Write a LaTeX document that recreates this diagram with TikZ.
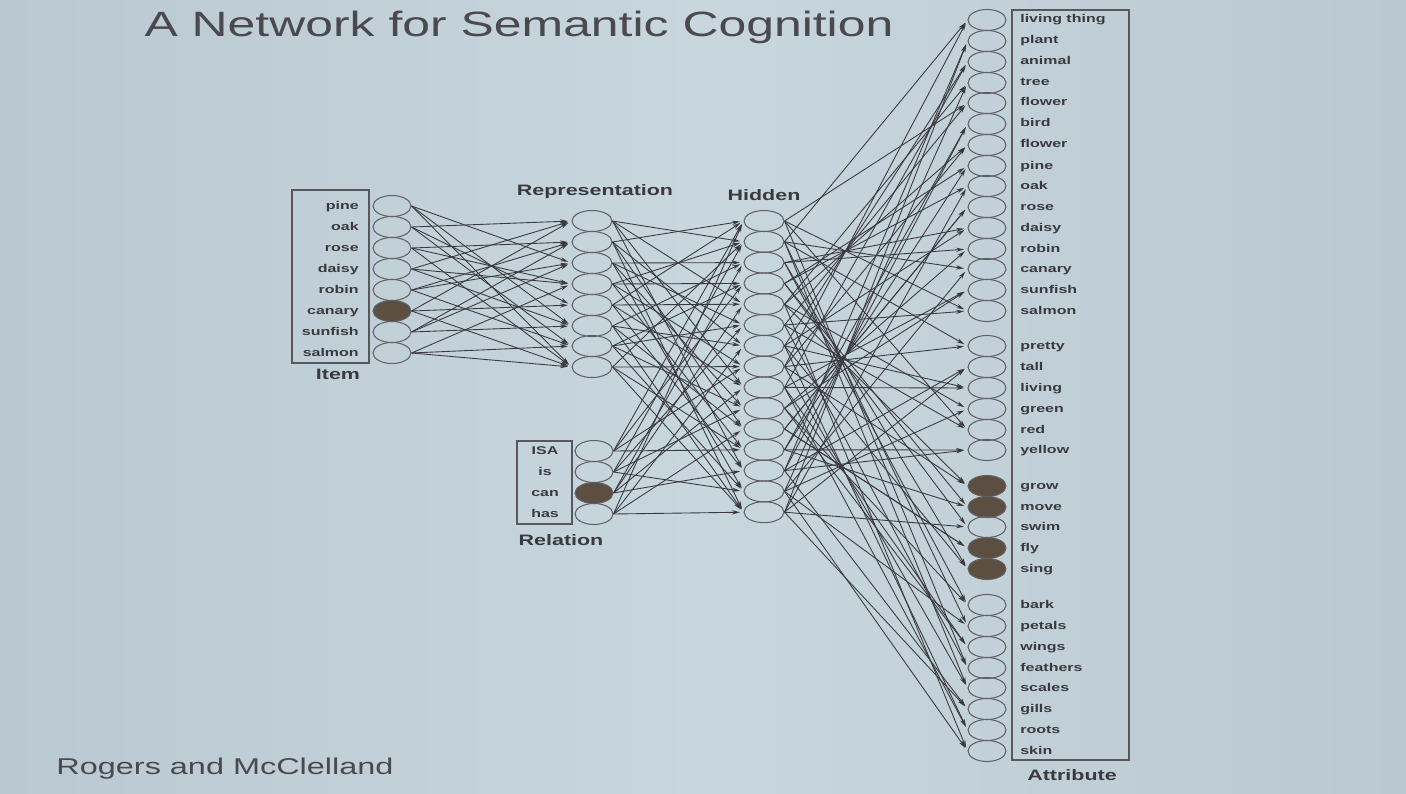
\documentclass[tikz,border=0pt]{standalone}
\usepackage{fontspec}
\usepackage{graphicx}
\setmainfont{Liberation Sans}
\usetikzlibrary{shapes.geometric,arrows.meta}
\definecolor{bg}{RGB}{200,214,222}
\definecolor{bgl}{RGB}{186,201,209}
\definecolor{ink}{RGB}{58,58,62}
\definecolor{dark}{RGB}{92,78,64}
\newcommand{\wide}[1]{\scalebox{1.42}[1]{#1}}
\begin{document}
\begin{tikzpicture}[x=0.02cm,y=-0.02cm,
  unit/.style={draw=ink!80,line width=0.6pt,ellipse,minimum width=0.76cm,minimum height=0.42cm,inner sep=0pt},
  hunit/.style={unit,minimum width=0.8cm},
  filled/.style={unit,fill=dark},
  lab/.style={font=\fontsize{6.4}{6.4}\selectfont\bfseries,text=ink,inner sep=0pt},
  head/.style={font=\fontsize{8.6}{8.6}\selectfont\bfseries,text=ink,inner sep=0pt,anchor=base},
  frame/.style={draw=ink!85,line width=0.8pt,rectangle,inner sep=0pt},
  conn/.style={draw=ink,line width=0.5pt,-{Stealth[length=4.5pt,width=2.4pt]},shorten >=2pt}]
\useasboundingbox (0,0) rectangle (1406,794);
\shade[left color=bgl,right color=bg] (0,0) rectangle (703,794);
\shade[left color=bg,right color=bgl] (703,0) rectangle (1406,794);

\node[font=\fontsize{20}{20}\selectfont,text=ink!92,inner sep=0pt,anchor=base] (title) at (519,37) {\wide{A Network for Semantic Cognition}};
\node[font=\fontsize{13}{13}\selectfont,text=ink!92,inner sep=0pt,anchor=base] (credit) at (225,774) {\wide{Rogers and McClelland}};

% frames
\node[frame,minimum width=1.54cm,minimum height=3.46cm] (ibox) at (330.5,276.5) {};
\node[frame,minimum width=1.1cm,minimum height=1.66cm] (qbox) at (544.5,482.5) {};
\node[frame,minimum width=2.34cm,minimum height=15cm] (abox) at (1070.5,385) {};

% item
\foreach \y/\t/\s [count=\i] in {206/pine/unit,227/oak/unit,248/rose/unit,269/daisy/unit,290/robin/unit,311/canary/filled,332/sunfish/unit,353/salmon/unit}{
  \node[\s] (I\i) at (392,\y) {};
  \node[lab,anchor=base east] (IL\i) at (359,\y+3) {\wide{\t}};
}
\node[head] (itemh) at (338,379) {\wide{Item}};

% representation
\foreach \y [count=\i] in {221,242,263,284,305,326,346,367}{
  \node[hunit] (R\i) at (592,\y) {};
}
\node[head] (reph) at (595,195) {\wide{Representation}};

% relation
\foreach \y/\t/\s [count=\i] in {451/ISA/unit,472/is/unit,493/can/filled,514/has/unit}{
  \node[\s] (Q\i) at (594,\y) {};
  \node[lab,anchor=base] (QL\i) at (545,\y+3) {\wide{\t}};
}
\node[head] (relh) at (561,545) {\wide{Relation}};

% hidden
\foreach \i in {1,...,15}{
  \node[hunit] (H\i) at (764,{221+(\i-1)*20.8}) {};
}
\node[head] (hidh) at (764,200) {\wide{Hidden}};

% attribute
\foreach \y/\t/\s [count=\i] in {20/living thing/unit,41/plant/unit,62/animal/unit,83/tree/unit,103/flower/unit,124/bird/unit,145/flower/unit,166/pine/unit,186/oak/unit,207/rose/unit,228/daisy/unit,249/robin/unit,269/canary/unit,290/sunfish/unit,311/salmon/unit,
  346/pretty/unit,367/tall/unit,388/living/unit,409/green/unit,430/red/unit,450/yellow/unit,
  486/grow/filled,507/move/filled,527/swim/unit,548/fly/filled,569/sing/filled,
  605/bark/unit,626/petals/unit,647/wings/unit,668/feathers/unit,688/scales/unit,709/gills/unit,730/roots/unit,751/skin/unit}{
  \node[\s] (A\i) at (987,\y) {};
  \node[lab,anchor=base west] (AL\i) at (1020,\y+3) {\wide{\t}};
}
\node[head] (atth) at (1072,780) {\wide{Attribute}};

% item -> representation
\foreach \a/\b in {1/3,1/6,1/8,2/1,2/5,2/7,3/2,3/4,3/8,4/1,4/4,4/6,5/2,5/3,5/7,6/5,6/1,6/8,7/3,7/6,7/2,8/4,8/7,8/8}{
  \draw[conn] (I\a.east) -- (R\b.west);
}
% representation -> hidden
\foreach \a/\b in {1/2,1/5,1/9,1/13,2/1,2/7,2/11,2/15,3/3,3/6,3/10,3/14,4/2,4/8,4/12,4/4,5/1,5/5,5/9,5/13,6/3,6/7,6/11,6/15,7/4,7/6,7/10,7/14,8/2,8/8,8/12,8/15}{
  \draw[conn] (R\a.east) -- (H\b.west);
}
% relation -> hidden
\foreach \a/\b in {1/1,1/4,1/8,1/12,2/2,2/6,2/10,2/14,3/3,3/5,3/9,3/13,4/1,4/7,4/11,4/15}{
  \draw[conn] (Q\a.east) -- (H\b.west);
}
% hidden -> attribute
\foreach \a in {1,...,34}{
  \pgfmathtruncatemacro\ha{mod(\a*7,15)+1}
  \pgfmathtruncatemacro\hb{mod(\a*11+5,15)+1}
  \draw[conn] (H\ha.east) -- (A\a.west);
  \draw[conn] (H\hb.east) -- (A\a.west);
}
\end{tikzpicture}
\end{document}
